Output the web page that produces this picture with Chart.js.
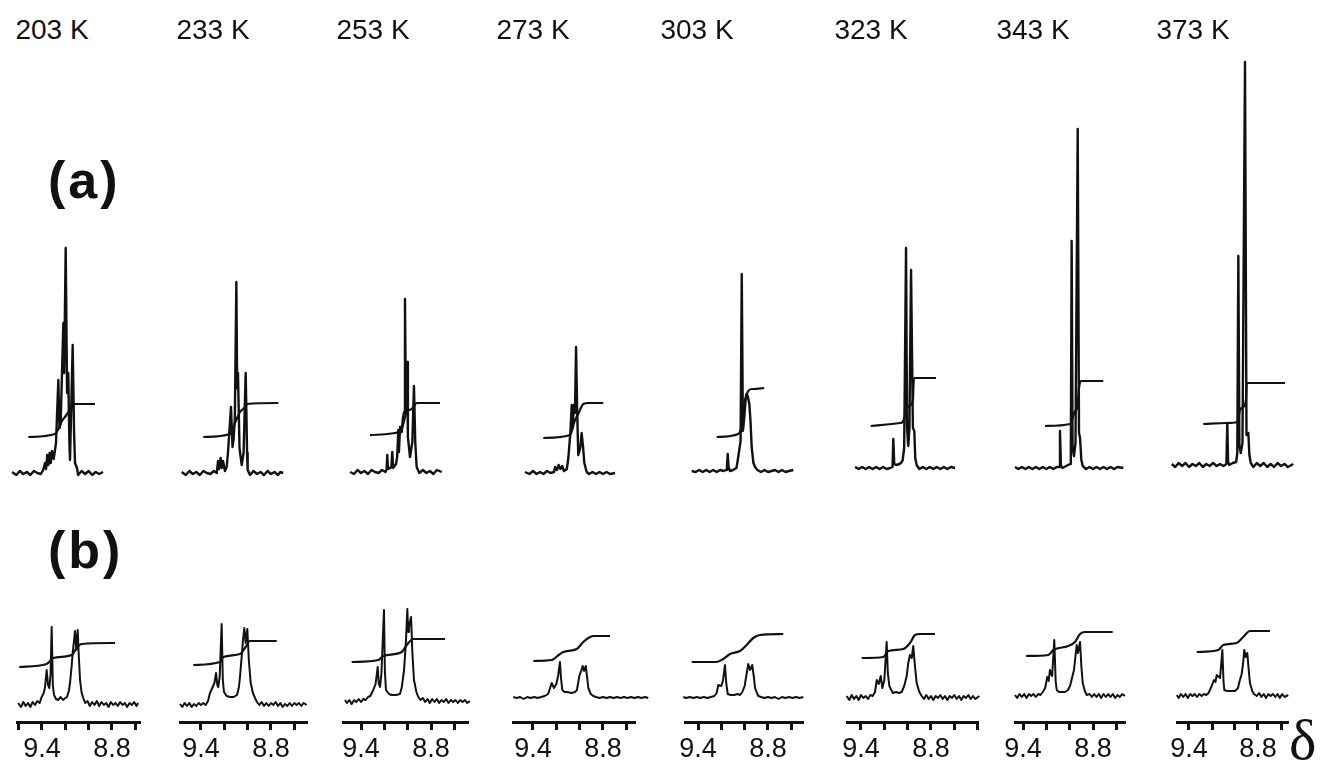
<!DOCTYPE html>
<html>
<head>
<meta charset="utf-8">
<script src="https://cdn.jsdelivr.net/npm/chart.js@4.4.1/dist/chart.umd.min.js"></script>
<style>
  body { margin: 0; background: #fff; }
  #fig { position: relative; width: 1324px; height: 761px; overflow: hidden; background: #fff;
         font-family: 'Liberation Sans', Arial, sans-serif; color: #111; }
  #fig canvas { position: absolute; }
  .lbl { position: absolute; white-space: nowrap; }
  .temp { font-size: 28px; width: 140px; text-align: center; line-height: 30px; top: 15px; }
  .part { font-size: 52px; font-weight: bold; line-height: 1; left: 48px; letter-spacing: 3px; }
  .delta { font-family: 'Liberation Serif', 'DejaVu Serif', serif; font-size: 58px; line-height: 1; left: 1289px; top: 711px; }
</style>
</head>
<body>
<div id="fig"></div>
<script>
// temperatures of the VT spectra and labelled shifts on the δ axes
const temps = ['203 K', '233 K', '253 K', '273 K', '303 K', '323 K', '343 K', '373 K'];
const tickLabels = ['9.4', '8.8'];

// ---- (a) spectra: [ppm, intensity] ----
const a203 = [[9.657,1],[9.62,-2],[9.59,2],[9.56,-1],[9.53,1],[9.50,-2],[9.47,2],[9.44,0],[9.41,-1],[9.39,3],
  [9.374,10],[9.365,4],[9.355,18],[9.345,8],[9.335,20],[9.325,10],[9.315,22],[9.30,14],[9.28,30],[9.26,93],
  [9.25,45],[9.24,50],[9.217,150],[9.21,100],[9.197,225],[9.185,80],[9.175,100],[9.165,30],[9.16,13],[9.137,128],
  [9.125,40],[9.117,10],[9.10,5],[9.09,-2],[9.06,2],[9.03,-1],[9.00,2],[8.97,-2],[8.94,1],[8.91,-1],[8.877,1]];
const a233 = [[9.565,1],[9.53,-2],[9.50,2],[9.47,-1],[9.44,1],[9.41,-2],[9.38,2],[9.35,0],[9.32,-1],[9.29,2],
  [9.265,0],[9.254,12],[9.245,4],[9.232,15],[9.222,5],[9.211,12],[9.195,2],[9.18,6],[9.169,20],[9.143,66],
  [9.13,26],[9.12,35],[9.11,55],[9.097,191],[9.09,85],[9.083,100],[9.07,25],[9.051,8],[9.035,20],[9.017,100],
  [9.005,20],[9.0,3],[8.98,-2],[8.95,2],[8.92,-1],[8.89,1],[8.86,-2],[8.83,2],[8.80,-1],[8.77,1],[8.74,-2],[8.72,1],[8.695,0]];
const a253 = [[9.494,0],[9.46,-2],[9.43,2],[9.40,-1],[9.37,1],[9.34,-2],[9.31,2],[9.28,0],[9.25,-1],[9.22,2],
  [9.19,0],[9.18,3],[9.175,17],[9.168,3],[9.15,4],[9.14,5],[9.132,20],[9.125,4],[9.10,8],[9.09,15],[9.08,42],
  [9.075,20],[9.065,45],[9.051,40],[9.04,55],[9.03,60],[9.023,173],[9.015,60],[9.005,110],[8.998,35],[8.98,15],
  [8.96,30],[8.946,86],[8.935,30],[8.923,5],[8.90,-1],[8.87,2],[8.84,-1],[8.81,1],[8.78,-2],[8.75,2],[8.708,0]];
const a273 = [[9.469,1],[9.43,-1],[9.40,2],[9.37,-1],[9.34,1],[9.31,-1],[9.28,2],[9.25,0],[9.22,1],[9.211,6],
  [9.195,3],[9.18,8],[9.165,4],[9.15,7],[9.135,2],[9.12,3],[9.11,4],[9.097,15],[9.08,40],[9.068,68],[9.06,45],
  [9.05,68],[9.04,60],[9.031,126],[9.022,65],[9.012,18],[8.995,25],[8.983,40],[8.97,25],[8.96,10],[8.94,1],
  [8.92,-1],[8.89,1],[8.86,-1],[8.83,1],[8.80,-1],[8.77,1],[8.74,-1],[8.697,0]];
const a303 = [[9.454,0],[9.42,-1],[9.39,1],[9.36,-1],[9.33,1],[9.30,-1],[9.27,1],[9.24,-1],[9.21,1],[9.18,0],
  [9.16,1],[9.152,5],[9.145,17],[9.138,4],[9.126,0],[9.10,1],[9.07,3],[9.055,14],[9.035,30],[9.025,197],
  [9.015,40],[9.003,54],[8.993,70],[8.983,77],[8.972,74],[8.96,67],[8.95,50],[8.94,24],[8.925,8],[8.911,4],
  [8.89,1],[8.86,-1],[8.83,1],[8.80,-1],[8.77,0],[8.74,1],[8.71,-1],[8.68,1],[8.65,-1],[8.62,0],[8.583,1]];
const a323 = [[9.451,1],[9.42,-1],[9.39,1],[9.36,-1],[9.33,1],[9.30,-1],[9.27,1],[9.24,-1],[9.21,1],[9.18,-1],
  [9.15,0],[9.13,1],[9.123,29],[9.115,4],[9.10,3],[9.07,4],[9.05,6],[9.043,8],[9.03,20],[9.014,220],[9.005,40],
  [8.995,22],[8.985,40],[8.971,198],[8.955,40],[8.943,37],[8.935,10],[8.923,3],[8.90,-1],[8.87,1],[8.84,-1],
  [8.81,1],[8.78,-1],[8.75,1],[8.72,-1],[8.69,1],[8.66,-1],[8.63,1],[8.594,0]];
const a343 = [[9.469,1],[9.44,-1],[9.41,1],[9.38,-1],[9.35,1],[9.32,-1],[9.29,1],[9.26,-1],[9.23,1],[9.20,-1],
  [9.17,1],[9.14,-1],[9.11,1],[9.09,1],[9.083,37],[9.075,3],[9.063,0],[9.03,2],[8.997,4],[8.99,15],[8.983,227],
  [8.975,20],[8.963,12],[8.95,25],[8.931,339],[8.92,35],[8.911,30],[8.90,8],[8.888,2],[8.86,-1],[8.83,1],
  [8.80,-1],[8.77,1],[8.74,-1],[8.71,1],[8.68,-1],[8.65,1],[8.62,-1],[8.59,1],[8.54,0]];
const a373 = [[9.55,1],[9.52,-2],[9.49,2],[9.46,-1],[9.43,2],[9.40,-2],[9.37,1],[9.34,-1],[9.31,2],[9.28,-2],
  [9.25,1],[9.22,-1],[9.19,2],[9.16,-1],[9.13,1],[9.10,-1],[9.075,1],[9.067,42],[9.06,3],[9.05,0],[9.02,2],
  [8.99,3],[8.98,12],[8.971,209],[8.962,20],[8.95,12],[8.935,22],[8.913,403],[8.90,30],[8.884,32],[8.875,10],
  [8.863,2],[8.84,-2],[8.81,2],[8.78,-1],[8.75,2],[8.72,-2],[8.69,1],[8.66,-2],[8.63,2],[8.60,-1],[8.57,1],[8.54,-2],[8.493,1]];

// (a) integral traces
const ia203 = [[9.517,36],[9.289,39],[9.26,44],[9.23,52],[9.197,57],[9.175,61],[9.16,63],[9.137,66],[9.125,69],[8.946,69]];
const ia233 = [[9.38,36],[9.151,39],[9.109,50],[9.066,61],[9.03,65],[9.015,67],[9.008,69],[8.737,70]];
const ia253 = [[9.323,37],[9.109,39],[9.051,43],[9.008,60],[8.965,63],[8.945,66],[8.923,69],[8.723,69]];
const ia273 = [[9.312,35],[9.083,38],[9.04,53],[9.012,59],[8.99,65],[8.969,69],[8.926,70],[8.797,70]];
const ia303 = [[9.24,34],[9.055,37],[9.025,46],[8.997,71],[8.969,80],[8.94,82],[8.926,82],[8.832,83]];
const ia323 = [[9.317,42],[9.066,45],[9.043,46],[9.003,60],[8.974,63],[8.955,68],[8.948,88],[8.943,90],[8.757,90]];
const ia343 = [[9.211,42],[8.997,44],[8.975,50],[8.954,57],[8.935,60],[8.92,80],[8.905,87],[8.712,87]];
const ia373 = [[9.276,41],[9.072,42],[8.98,43],[8.957,55],[8.928,58],[8.905,65],[8.898,82],[8.565,82]];

// ---- (b) spectra: [ppm, intensity] ----
const b203 = [[9.606,2],[9.58,-2],[9.56,3],[9.54,-1],[9.52,2],[9.50,-2],[9.48,3],[9.46,0],[9.44,4],[9.42,2],
  [9.403,8],[9.385,12],[9.374,18],[9.36,35],[9.348,20],[9.337,17],[9.327,30],[9.317,78],[9.307,20],[9.297,10],
  [9.28,6],[9.263,5],[9.24,8],[9.22,5],[9.20,7],[9.186,8],[9.17,14],[9.16,22],[9.145,40],[9.137,52],[9.125,65],
  [9.117,74],[9.106,55],[9.094,75],[9.085,50],[9.074,25],[9.06,12],[9.046,7],[9.03,2],[9.01,4],[8.99,-1],
  [8.97,3],[8.95,0],[8.93,4],[8.91,-1],[8.89,3],[8.87,0],[8.85,2],[8.83,-2],[8.81,3],[8.79,0],[8.77,2],[8.75,-1],
  [8.73,3],[8.71,0],[8.69,2],[8.67,-2],[8.65,2],[8.63,0],[8.61,3],[8.59,-1],[8.577,2]];
const b233 = [[9.58,1],[9.56,-2],[9.54,2],[9.52,-1],[9.50,2],[9.48,-2],[9.46,1],[9.44,-1],[9.42,2],[9.40,0],
  [9.38,2],[9.36,0],[9.34,4],[9.323,12],[9.30,18],[9.285,22],[9.271,32],[9.26,20],[9.252,18],[9.24,28],[9.223,81],
  [9.213,25],[9.203,13],[9.18,9],[9.151,8],[9.12,8],[9.091,10],[9.075,18],[9.066,28],[9.05,50],[9.04,65],[9.029,77],
  [9.017,62],[9.003,76],[8.99,45],[8.974,22],[8.955,12],[8.937,7],[8.92,3],[8.90,0],[8.88,3],[8.86,-1],[8.84,2],
  [8.82,-1],[8.80,2],[8.78,0],[8.76,3],[8.74,-1],[8.72,2],[8.70,-2],[8.68,1],[8.66,-1],[8.64,2],[8.62,-1],[8.60,2],
  [8.58,0],[8.56,2],[8.54,-1],[8.52,2],[8.494,0]];
const b253 = [[9.537,2],[9.52,-1],[9.50,2],[9.48,-2],[9.46,2],[9.44,0],[9.42,3],[9.40,0],[9.38,3],[9.36,2],
  [9.34,5],[9.32,6],[9.295,12],[9.275,18],[9.257,35],[9.247,18],[9.237,15],[9.225,28],[9.203,92],[9.195,30],
  [9.186,12],[9.16,8],[9.137,7],[9.10,7],[9.066,8],[9.05,15],[9.031,32],[9.015,60],[9.003,93],[8.995,70],
  [8.989,75],[8.971,85],[8.96,50],[8.946,22],[8.925,10],[8.909,5],[8.89,2],[8.87,4],[8.85,0],[8.83,3],[8.81,-1],
  [8.79,3],[8.77,0],[8.75,3],[8.73,-1],[8.71,2],[8.69,0],[8.67,3],[8.65,-1],[8.63,2],[8.61,0],[8.59,2],[8.57,-1],
  [8.55,2],[8.53,0],[8.51,2],[8.49,-1],[8.466,1]];
const b273 = [[9.569,1],[9.54,0],[9.51,1],[9.48,-1],[9.45,1],[9.42,0],[9.39,1],[9.36,0],[9.33,1],[9.30,2],
  [9.27,4],[9.24,15],[9.22,10],[9.20,14],[9.185,22],[9.169,36],[9.16,20],[9.149,8],[9.13,6],[9.109,6],[9.07,5],
  [9.04,6],[9.023,8],[9.003,22],[8.985,28],[8.974,32],[8.963,27],[8.948,32],[8.935,20],[8.926,10],[8.905,4],
  [8.883,2],[8.86,1],[8.83,0],[8.80,1],[8.77,0],[8.74,1],[8.71,0],[8.68,1],[8.65,0],[8.62,1],[8.59,0],[8.56,1],
  [8.53,0],[8.50,1],[8.47,0],[8.44,1],[8.412,0]];
const b303 = [[9.526,1],[9.50,0],[9.47,1],[9.44,0],[9.41,1],[9.38,0],[9.35,1],[9.32,0],[9.29,1],[9.26,2],
  [9.24,5],[9.226,13],[9.20,12],[9.185,18],[9.169,33],[9.158,15],[9.145,4],[9.12,3],[9.09,3],[9.06,4],[9.04,3],
  [9.02,6],[9.0,12],[8.989,20],[8.969,34],[8.954,28],[8.935,33],[8.92,20],[8.911,10],[8.895,5],[8.883,2],
  [8.86,1],[8.83,0],[8.80,1],[8.77,0],[8.74,1],[8.71,-1],[8.68,1],[8.65,0],[8.62,1],[8.59,0],[8.56,1],[8.53,0],[8.497,1]];
const b323 = [[9.523,2],[9.50,-2],[9.48,3],[9.46,-1],[9.44,2],[9.42,-2],[9.40,3],[9.38,0],[9.36,2],[9.34,-1],
  [9.32,3],[9.30,2],[9.28,6],[9.265,18],[9.248,14],[9.231,22],[9.217,10],[9.20,18],[9.18,56],[9.17,25],[9.157,12],
  [9.14,8],[9.126,5],[9.10,6],[9.075,5],[9.051,6],[9.03,12],[9.008,22],[8.995,35],[8.98,43],[8.965,40],[8.952,52],
  [8.94,35],[8.923,15],[8.90,6],[8.88,2],[8.86,-1],[8.84,3],[8.82,-1],[8.80,2],[8.78,-2],[8.76,2],[8.74,0],[8.72,3],
  [8.70,-1],[8.68,2],[8.66,-2],[8.64,2],[8.62,0],[8.60,3],[8.58,-1],[8.56,2],[8.54,-2],[8.52,2],[8.50,0],[8.48,3],
  [8.46,-1],[8.44,2],[8.42,-1],[8.386,2]];
const b343 = [[9.469,1],[9.45,-2],[9.43,2],[9.41,-1],[9.39,2],[9.37,-2],[9.35,2],[9.33,0],[9.31,2],[9.29,-1],
  [9.27,2],[9.25,1],[9.23,4],[9.21,8],[9.192,19],[9.18,15],[9.169,26],[9.15,20],[9.132,56],[9.12,15],[9.111,6],
  [9.09,4],[9.068,4],[9.04,4],[9.015,6],[8.997,10],[8.98,18],[8.963,26],[8.94,51],[8.929,43],[8.911,54],[8.90,30],
  [8.888,13],[8.87,5],[8.854,1],[8.83,2],[8.81,-1],[8.79,2],[8.77,-1],[8.75,2],[8.73,-2],[8.71,2],[8.69,-1],
  [8.67,2],[8.65,-1],[8.63,2],[8.61,-2],[8.59,1],[8.57,-1],[8.55,2],[8.526,0]];
const b373 = [[9.507,1],[9.49,-2],[9.47,2],[9.45,-1],[9.43,2],[9.41,-2],[9.39,2],[9.37,0],[9.35,2],[9.33,-1],
  [9.31,2],[9.29,0],[9.27,2],[9.25,1],[9.23,3],[9.21,8],[9.183,16],[9.17,14],[9.159,21],[9.13,18],[9.11,46],
  [9.10,15],[9.093,6],[9.07,5],[9.04,5],[9.0,5],[8.974,8],[8.96,15],[8.942,22],[8.93,32],[8.919,46],[8.907,39],
  [8.893,43],[8.88,25],[8.87,13],[8.85,5],[8.835,2],[8.81,0],[8.79,3],[8.77,-1],[8.75,2],[8.73,-2],[8.71,2],
  [8.69,0],[8.67,2],[8.65,-1],[8.63,2],[8.61,-2],[8.59,2],[8.57,-1],[8.537,1]];

// (b) integral traces
const ib203 = [[9.595,38],[9.36,41],[9.303,47],[9.145,50],[9.103,57],[9.06,61],[8.774,62]];
const ib233 = [[9.466,40],[9.237,43],[9.209,48],[9.066,51],[9.023,57],[8.98,64],[8.751,64]];
const ib253 = [[9.48,40],[9.252,42],[9.209,46],[9.051,50],[9.008,57],[8.952,63],[8.68,63]];
const ib273 = [[9.397,37],[9.24,38],[9.169,44],[9.14,46],[9.025,49],[8.969,56],[8.926,60],[8.883,62],[8.74,62]];
const ib303 = [[9.454,36],[9.24,36],[9.183,39],[9.126,44],[9.04,47],[8.983,53],[8.926,60],[8.869,63],[8.669,64]];
const ib323 = [[9.394,40],[9.209,41],[9.166,47],[9.037,49],[8.98,55],[8.937,63],[8.894,64],[8.766,64]];
const ib343 = [[9.374,40],[9.183,41],[9.14,46],[9.012,50],[8.954,54],[8.911,62],[8.869,64],[8.631,64]];
const ib373 = [[9.333,44],[9.145,46],[9.102,51],[8.985,53],[8.928,59],[8.87,65],[8.696,65]];

const spectraA = [a203, a233, a253, a273, a303, a323, a343, a373];
const integralsA = [ia203, ia233, ia253, ia273, ia303, ia323, ia343, ia373];
const spectraB = [b203, b233, b253, b273, b303, b323, b343, b373];
const integralsB = [ib203, ib233, ib253, ib273, ib303, ib323, ib343, ib373];

// ---- layout (pixels) ----
// head: centre of the temperature text, x94 / x88: pixel of the 9.4 and 8.8 ticks,
// axis: δ axis extent, aBase / bBase: spectrum baselines
const cols = [
  { head: 52,   x94: 42,   x88: 112,  axis: [17, 140],    aBase: 473, bBase: 705 },
  { head: 213,  x94: 201,  x88: 271,  axis: [180, 307],   aBase: 473, bBase: 705 },
  { head: 373,  x94: 361,  x88: 431,  axis: [343, 468],   aBase: 472, bBase: 702 },
  { head: 533,  x94: 533,  x88: 603,  axis: [513, 635],   aBase: 473, bBase: 698 },
  { head: 697,  x94: 698,  x88: 768,  axis: [685, 803],   aBase: 471, bBase: 698 },
  { head: 871,  x94: 861,  x88: 931,  axis: [847, 978],   aBase: 468, bBase: 698 },
  { head: 1033, x94: 1023, x88: 1093, axis: [1015, 1125], aBase: 468, bBase: 696 },
  { head: 1193, x94: 1189, x88: 1258, axis: [1177, 1288], aBase: 465, bBase: 696 }
];
const AXIS_Y = 722, A_TOP = 40, A_H = 440, B_TOP = 560, B_AREA = AXIS_Y - B_TOP;
const PAD = 30, TICK_LEN = 8, TICK_PAD = 6, TICK_FONT = 27;
const INK = '#111';

const fig = document.getElementById('fig');
const ppmAt = (c, px) => 9.4 - (px - c.x94) * 0.6 / (c.x88 - c.x94);

function addCanvas(left, top, w, h) {
  const cv = document.createElement('canvas');
  cv.width = w; cv.height = h;
  cv.style.left = left + 'px'; cv.style.top = top + 'px';
  cv.style.width = w + 'px'; cv.style.height = h + 'px';
  fig.appendChild(cv);
  return cv;
}

function lineSet(data, width, smooth) {
  return {
    data, borderColor: INK, borderWidth: width, pointRadius: 0, fill: false, clip: false,
    borderJoinStyle: 'round',
    tension: smooth ? 0.4 : 0, cubicInterpolationMode: smooth ? 'monotone' : 'default'
  };
}

const baseOpts = {
  responsive: false, animation: false, events: [],
  plugins: { legend: { display: false }, tooltip: { enabled: false } }
};

cols.forEach((c, i) => {
  // temperature heading
  const t = document.createElement('div');
  t.className = 'lbl temp';
  t.textContent = temps[i];
  t.style.left = (c.head - 70) + 'px';
  fig.appendChild(t);

  // (a) spectrum, no axes
  const aLeft = c.x94 - 45, aW = 170;
  const cvA = addCanvas(aLeft, A_TOP, aW, A_H);
  new Chart(cvA, {
    type: 'line',
    data: { datasets: [lineSet(spectraA[i], 2.4, false), lineSet(integralsA[i], 2.2, true)] },
    options: {
      ...baseOpts,
      layout: { padding: 0 },
      scales: {
        x: { type: 'linear', reverse: true, display: false,
             min: ppmAt(c, aLeft + aW), max: ppmAt(c, aLeft) },
        y: { type: 'linear', display: false,
             min: c.aBase - (A_TOP + A_H), max: c.aBase - A_TOP }
      }
    }
  });

  // (b) spectrum with δ axis
  const bLeft = c.axis[0] - PAD, bW = c.axis[1] - c.axis[0] + 2 * PAD;
  const bH = B_AREA + TICK_LEN + TICK_FONT + 2 * TICK_PAD;
  const cvB = addCanvas(bLeft, B_TOP, bW, bH);
  const yMin = -(AXIS_Y - c.bBase);
  new Chart(cvB, {
    type: 'line',
    data: { datasets: [lineSet(spectraB[i], 2, false), lineSet(integralsB[i], 2.2, true)] },
    options: {
      ...baseOpts,
      layout: { padding: { left: PAD, right: PAD, top: 0, bottom: 0 } },
      scales: {
        x: {
          type: 'linear', reverse: true,
          min: ppmAt(c, c.axis[1]), max: ppmAt(c, c.axis[0]),
          border: { display: true, color: INK, width: 3 },
          grid: { display: true, drawOnChartArea: false, drawTicks: true,
                  tickLength: TICK_LEN, tickWidth: 3, tickColor: INK },
          ticks: {
            stepSize: 0.2, includeBounds: false, autoSkip: false, maxRotation: 0,
            padding: TICK_PAD, color: INK,
            font: { family: "'Liberation Sans', Arial, sans-serif", size: TICK_FONT, lineHeight: 1 },
            callback: (v) => tickLabels.find(s => Math.abs(parseFloat(s) - v) < 1e-6) || ''
          }
        },
        y: { type: 'linear', display: false, min: yMin, max: yMin + B_AREA }
      }
    }
  });
});

// panel letters and δ unit
[['(a)', 154], ['(b)', 524]].forEach(([txt, top]) => {
  const d = document.createElement('div');
  d.className = 'lbl part';
  d.textContent = txt;
  d.style.top = top + 'px';
  fig.appendChild(d);
});
const dl = document.createElement('div');
dl.className = 'lbl delta';
dl.textContent = 'δ';
fig.appendChild(dl);
</script>
</body>
</html>
